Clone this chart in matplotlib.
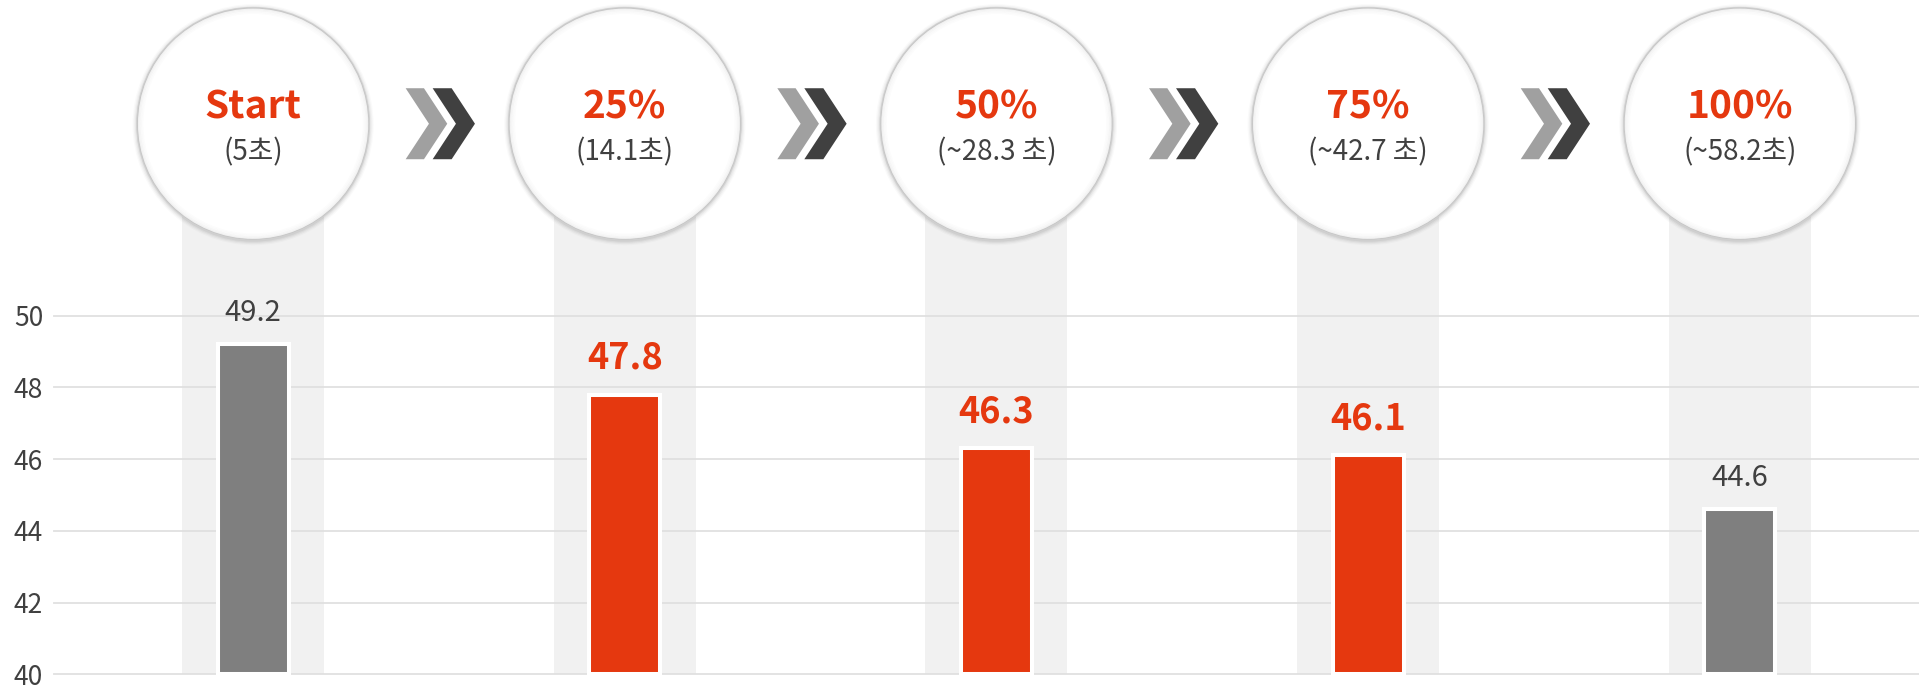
import matplotlib
matplotlib.use("Agg")
import matplotlib.pyplot as plt
from matplotlib.patches import Circle, Polygon
from matplotlib.transforms import ScaledTranslation

plt.rcParams['font.family'] = ['Noto Sans CJK KR', 'DejaVu Sans']

# data
stages = ['Start', '25%', '50%', '75%', '100%']
times = ['(5초)', '(14.1초)', '(~28.3 초)', '(~42.7 초)', '(~58.2초)']
values = [49.2, 47.8, 46.3, 46.1, 44.6]
highlight = [False, True, True, True, False]
yticks = [40, 42, 44, 46, 48, 50]

RED = '#e5380f'
GRAY = '#7f7f7f'
DARK = '#404040'

fig = plt.figure(figsize=(19.19, 6.85), dpi=100)
ax = fig.add_axes([0, 0, 1, 1])
ax.set_xlim(-0.681, 4.482)
ax.set_ylim(39.70, 58.80)
for s in ax.spines.values():
    s.set_visible(False)
ax.set_xticks([])

x = list(range(len(stages)))
cy = 55.35  # circle centre in data units
base = 40

# shaded columns behind bars
ax.bar(x, [56 - base] * len(x), bottom=base, width=0.382, color='#f1f1f1', zorder=1)

# grid lines
for t in yticks:
    ax.axhline(t, xmin=54 / 1919, xmax=1, color='#e0e0e0', lw=1.3, zorder=2)

ax.set_yticks(yticks)
ax.set_yticklabels([str(t) for t in yticks], color=DARK, fontsize=19, fontweight='light')
ax.tick_params(axis='y', length=0, pad=-31)

# bars
cols = [RED if h else GRAY for h in highlight]
ax.bar(x, [v - base for v in values], bottom=base, width=0.191, color=cols,
       edgecolor='white', linewidth=2.9, zorder=3)

for xi, v, h in zip(x, values, highlight):
    if h:
        ax.annotate(f'{v}', (xi, v), xytext=(0, 18.5), textcoords='offset points',
                    ha='center', va='baseline', fontsize=26, fontweight='bold', color=RED, zorder=6)
    else:
        ax.annotate(f'{v}', (xi, v), xytext=(0, 17), textcoords='offset points',
                    ha='center', va='baseline', fontsize=21, fontweight='light', color=DARK, zorder=6)

# circles
for xi, st, tm in zip(x, stages, times):
    tr = fig.dpi_scale_trans + ScaledTranslation(xi, cy, ax.transData)
    for k, a in enumerate([0.05, 0.04, 0.03, 0.02]):
        ax.add_patch(Circle((0, -0.01), 1.17 + 0.012 * k, transform=tr, facecolor='black',
                            edgecolor='none', alpha=a, zorder=4))
    ax.add_patch(Circle((0, 0), 1.16, transform=tr, facecolor='white',
                        edgecolor='#cfcfcf', lw=1.2, zorder=4))
    for k, a in enumerate([0.05, 0.035, 0.02, 0.01]):
        ax.add_patch(Circle((0, 0), 1.15 - 0.015 * k, transform=tr, facecolor='none',
                            edgecolor='black', lw=1.2, alpha=a, zorder=4))
    ax.annotate(st, (xi, cy), xytext=(0, 3.9), textcoords='offset points', ha='center',
                va='baseline', fontsize=28, fontweight='bold', color=RED, zorder=6)
    ax.annotate(tm, (xi, cy), xytext=(0, -26.5), textcoords='offset points', ha='center',
                va='baseline', fontsize=20, fontweight='light', color=DARK, zorder=6)

# chevrons between circles
light = [(-0.333, 0.355), (-0.15, 0.355), (0.083, 0), (-0.15, -0.355), (-0.333, -0.355), (-0.10, 0)]
dark = [(-0.063, 0.355), (0.127, 0.355), (0.36, 0), (0.127, -0.355), (-0.063, -0.355), (0.17, 0)]
for xi in x[:-1]:
    tr = fig.dpi_scale_trans + ScaledTranslation(xi + 0.5, cy, ax.transData)
    ax.add_patch(Polygon(light, closed=True, transform=tr, facecolor='#a0a0a0', edgecolor='none', zorder=5))
    ax.add_patch(Polygon(dark, closed=True, transform=tr, facecolor='#404040', edgecolor='none', zorder=5))

fig.savefig('out.png', dpi=100, facecolor='white')
